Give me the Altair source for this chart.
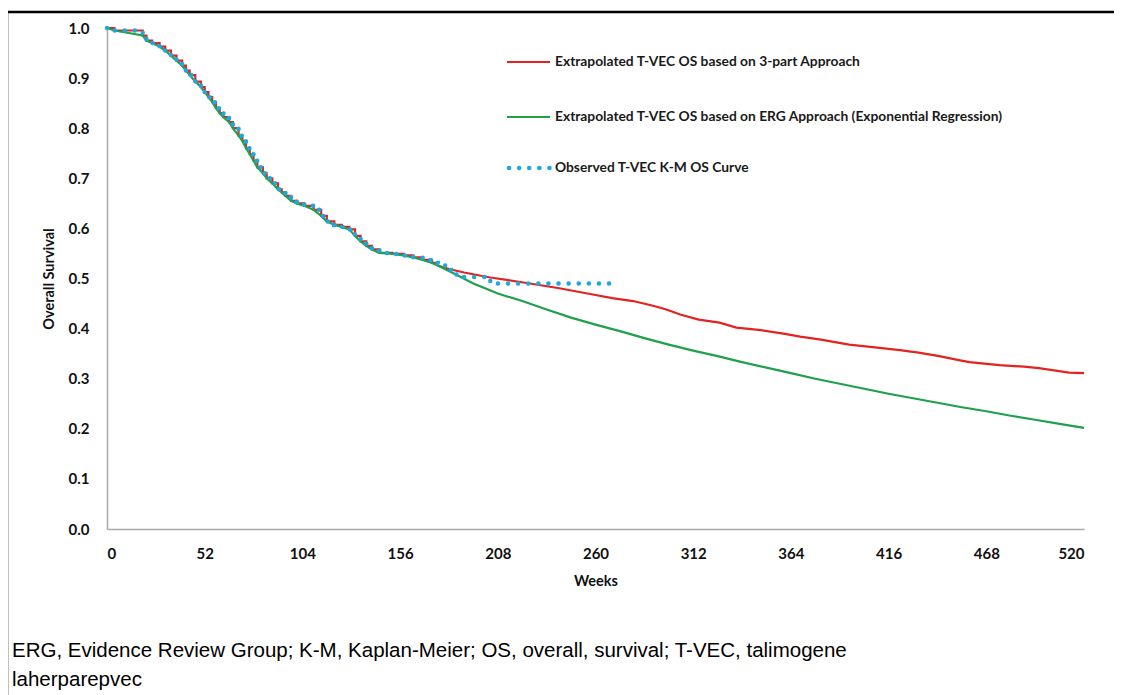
import altair as alt
import pandas as pd

# Observed Kaplan-Meier OS (weeks, survival)
km_weeks = [0, 4, 19, 21, 24, 28, 31, 34, 37, 40, 42, 44, 47, 50, 52, 54, 56, 58, 60, 62,
            65, 67, 70, 72, 74, 76, 78, 80, 83, 85, 88, 91, 93, 95, 98, 101, 105, 110, 114,
            117, 121, 125, 129, 132, 135, 138, 141, 145, 152, 158, 163, 168, 173, 176, 180,
            183, 186, 204, 269]
km_surv = [1.0, 0.995, 0.985, 0.975, 0.97, 0.963, 0.955, 0.945, 0.935, 0.925, 0.915, 0.906,
           0.893, 0.882, 0.872, 0.862, 0.852, 0.84, 0.83, 0.822, 0.812, 0.80, 0.785, 0.775,
           0.76, 0.748, 0.735, 0.722, 0.71, 0.70, 0.69, 0.678, 0.672, 0.665, 0.655, 0.65,
           0.645, 0.637, 0.625, 0.614, 0.607, 0.603, 0.598, 0.585, 0.574, 0.565, 0.558,
           0.551, 0.549, 0.546, 0.542, 0.537, 0.531, 0.526, 0.517, 0.51, 0.503, 0.49, 0.49]

# Extrapolated tails (from week 176)
red_weeks = [176, 182, 190, 204, 220, 240, 260, 269, 280, 289, 296, 300, 305, 315, 326, 335,
             348, 360, 369, 380, 395, 410, 422, 432, 443, 452, 459, 475, 488, 496, 505, 512, 520]
red_surv = [0.526, 0.519, 0.512, 0.502, 0.493, 0.481, 0.467, 0.461, 0.455, 0.447, 0.44, 0.435,
            0.428, 0.418, 0.412, 0.402, 0.397, 0.39, 0.384, 0.378, 0.368, 0.362, 0.357, 0.352,
            0.345, 0.338, 0.333, 0.327, 0.324, 0.321, 0.316, 0.312, 0.311]
green_weeks = [176, 182, 195, 208, 221, 234, 247, 260, 273, 286, 299, 312, 325, 338, 351, 364,
               377, 390, 403, 416, 429, 442, 455, 468, 481, 494, 507, 520]
green_surv = [0.526, 0.515, 0.49, 0.47, 0.455, 0.438, 0.422, 0.408, 0.395, 0.381, 0.368, 0.356,
              0.345, 0.333, 0.322, 0.311, 0.300, 0.290, 0.280, 0.270, 0.261, 0.252, 0.243,
              0.235, 0.226, 0.218, 0.210, 0.202]

x_ticks = [0, 52, 104, 156, 208, 260, 312, 364, 416, 468, 520]
y_ticks = [0.0, 0.1, 0.2, 0.3, 0.4, 0.5, 0.6, 0.7, 0.8, 0.9, 1.0]

legend_labels = ["Extrapolated T-VEC OS based on 3-part Approach",
                 "Extrapolated T-VEC OS based on ERG Approach (Exponential Regression)",
                 "Observed T-VEC K-M OS Curve"]
footnote = ["ERG, Evidence Review Group; K-M, Kaplan-Meier; OS, overall, survival; T-VEC, talimogene",
            "laherparepvec"]

RED = "#e2231f"
GREEN = "#1fa04b"
BLUE = "#1ea7e1"

km_cut = [i for i, w in enumerate(km_weeks) if w <= 176]
km_df = pd.DataFrame({"week": km_weeks, "surv": km_surv})
km_early = pd.DataFrame({"week": [km_weeks[i] for i in km_cut], "surv": [km_surv[i] for i in km_cut]})
red_df = pd.DataFrame({"week": red_weeks, "surv": red_surv})
green_df = pd.concat([km_early.iloc[:-1], pd.DataFrame({"week": green_weeks, "surv": green_surv})])

X = alt.X("week:Q", scale=alt.Scale(domain=[0, 520], nice=False),
          axis=alt.Axis(values=x_ticks, title="Weeks", labelPadding=17, titlePadding=13))
Y = alt.Y("surv:Q", scale=alt.Scale(domain=[0, 1], nice=False),
          axis=alt.Axis(values=y_ticks, format=".1f", title="Overall Survival",
                        labelPadding=18, titlePadding=12))

red_step = alt.Chart(km_early).mark_line(color=RED, strokeWidth=2.2, interpolate="step-after").encode(x=X, y=Y)
red_tail = alt.Chart(red_df).mark_line(color=RED, strokeWidth=2.2).encode(x=X, y=Y)
green_line = alt.Chart(green_df).mark_line(color=GREEN, strokeWidth=2.2).encode(x=X, y=Y)
blue_line = alt.Chart(km_df).mark_line(color=BLUE, strokeWidth=4.5, strokeDash=[0.1, 10],
                                       strokeCap="round", interpolate="step-after").encode(x=X, y=Y)

one = pd.DataFrame({"a": [0]})
border_left = alt.Chart(one).mark_rule(color="black", strokeWidth=2.5).encode(
    x=alt.value(-100), y=alt.value(-16), y2=alt.value(700))
border_top = alt.Chart(one).mark_rule(color="black", strokeWidth=2.5).encode(
    x=alt.value(-100), x2=alt.value(1100), y=alt.value(-16))

legend_layers = []
leg_y = [34, 89, 140]
leg_colors = [RED, GREEN, BLUE]
for i, lab in enumerate(legend_labels):
    if i < 2:
        legend_layers.append(alt.Chart(one).mark_rule(color=leg_colors[i], strokeWidth=2.2).encode(
            x=alt.value(400), x2=alt.value(443), y=alt.value(leg_y[i])))
    else:
        legend_layers.append(alt.Chart(one).mark_rule(color=BLUE, strokeWidth=4.5, strokeDash=[0.1, 10],
                                                      strokeCap="round").encode(
            x=alt.value(402), x2=alt.value(444), y=alt.value(leg_y[i])))
    legend_layers.append(alt.Chart(pd.DataFrame({"t": [lab]})).mark_text(
        align="left", baseline="middle", font="Lato", fontWeight="bold", fontSize=13.8, color="#1a1a1a").encode(
        x=alt.value(448), y=alt.value(leg_y[i]), text="t:N"))

foot_layers = []
for i, line in enumerate(footnote):
    foot_layers.append(alt.Chart(pd.DataFrame({"t": [line]})).mark_text(
        align="left", baseline="middle", font="Liberation Sans", fontSize=20.5, color="black").encode(
        x=alt.value(-95), y=alt.value(623 + 29 * i), text="t:N"))

chart = alt.layer(border_left, border_top, red_step, red_tail, green_line, blue_line,
                  *legend_layers, *foot_layers).properties(
    width=977, height=501,
    autosize=alt.AutoSizeParams(type="none"),
    padding={"left": 99, "top": 20, "right": 30, "bottom": 170},
).configure_view(stroke=None).configure_axis(
    grid=False, ticks=False, domainColor="#a9a9a9", domainWidth=1.5,
    labelFont="Lato", labelFontWeight="bold", labelFontSize=15, labelColor="#111111",
    titleFont="Lato", titleFontWeight="bold", titleFontSize=14.5, titleColor="#111111",
)

chart.save("out.html", embed_options={"renderer": "svg", "actions": False})
